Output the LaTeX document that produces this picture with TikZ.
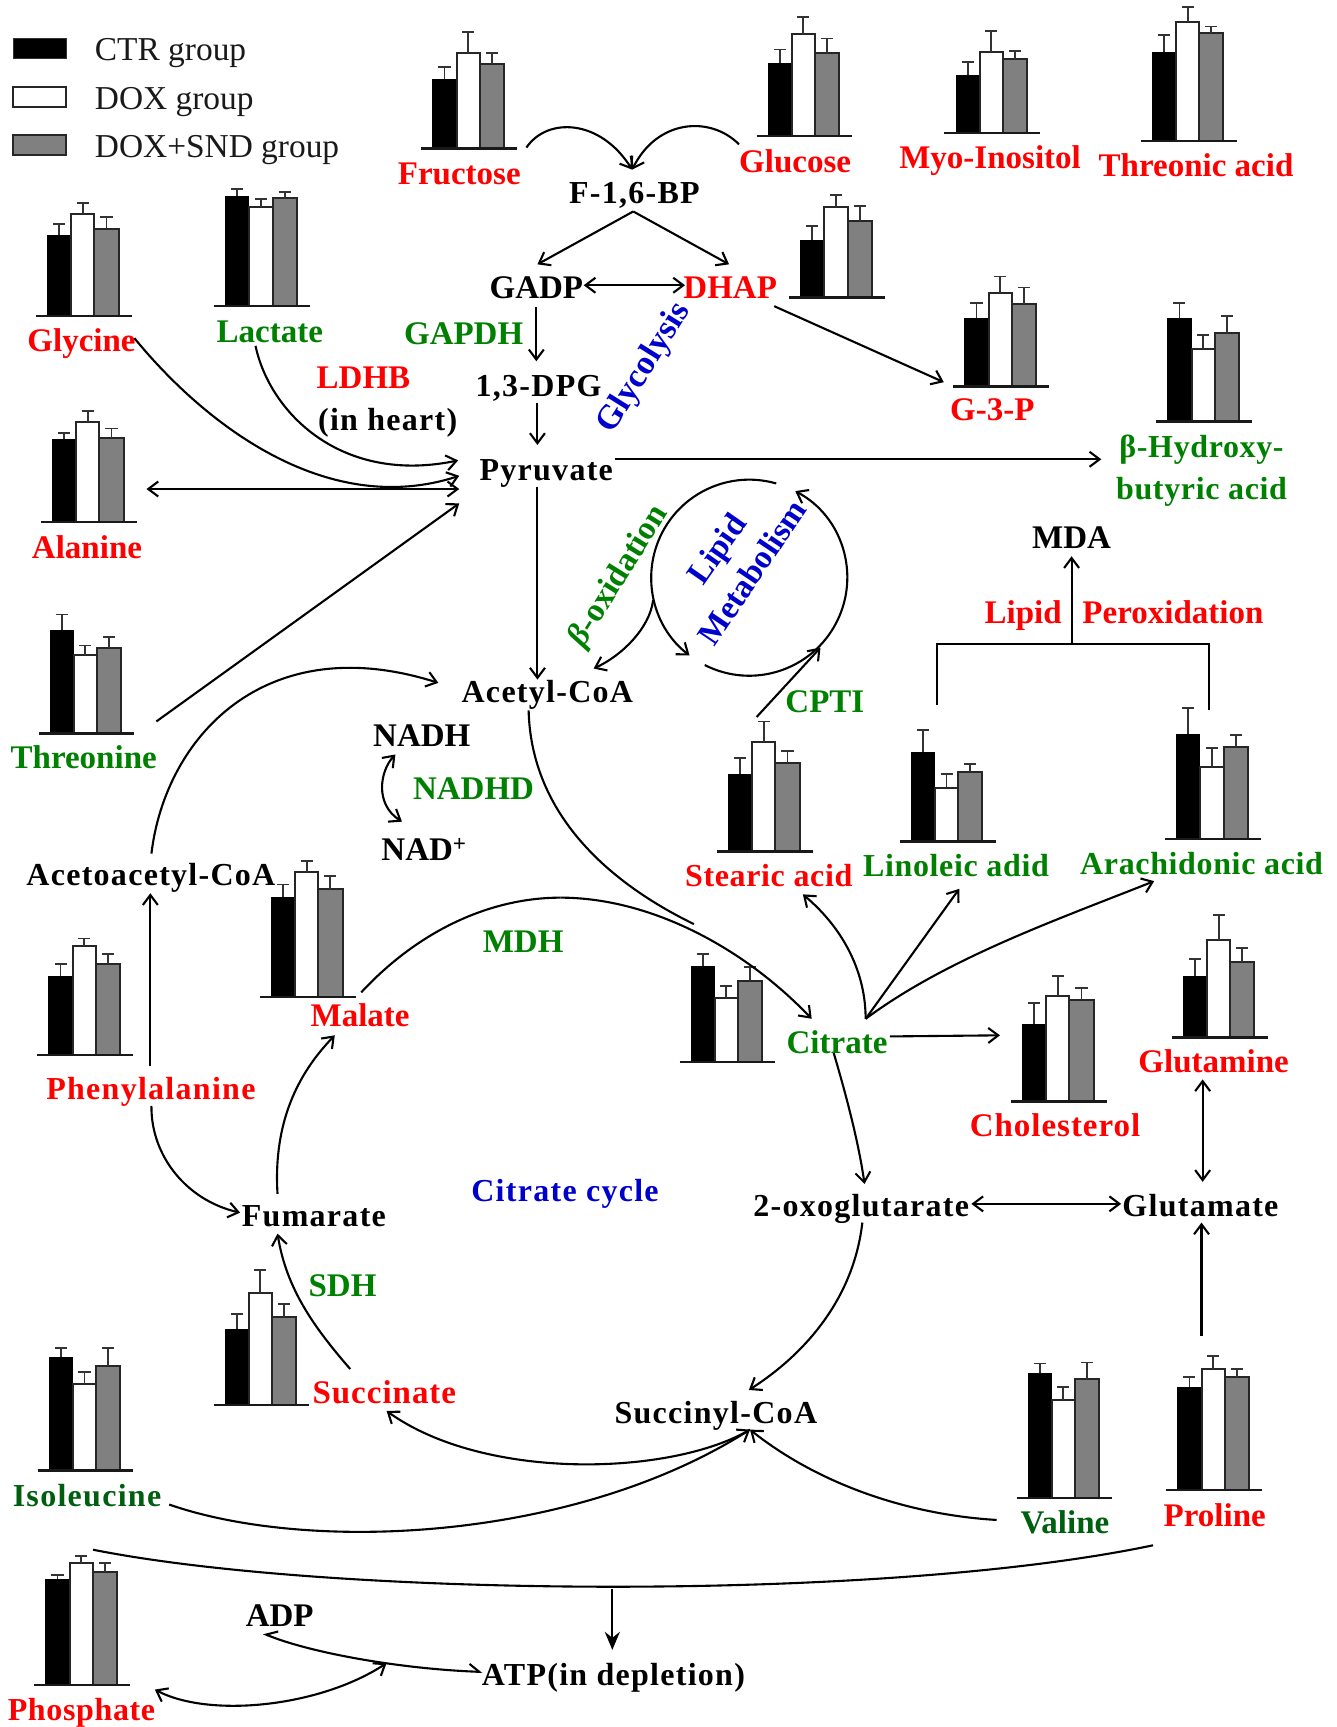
\documentclass[tikz,border=0pt]{standalone}
\usepackage{fontspec}
\setmainfont{Liberation Serif}
\newfontfamily\spacedfont[LetterSpace=4]{Liberation Serif}
\newfontfamily\tightfont[LetterSpace=2]{Liberation Serif}
\newfontfamily\midfont[LetterSpace=3]{Liberation Serif}
\usetikzlibrary{arrows.meta}
\definecolor{lblred}{HTML}{FF0000}
\definecolor{lblgreen}{HTML}{008000}
\definecolor{lbldark}{HTML}{005F0F}
\definecolor{lblblue}{HTML}{0000CC}
\definecolor{bargray}{HTML}{808080}
\newcommand{\chartbars}[8]{%
  \fill[black] (#1,#2) rectangle ({#1+22},#3);
  \draw[barline,fill=white] ({#1+22},#2) rectangle ({#1+43},#4);
  \draw[barline,fill=bargray] ({#1+43},#2) rectangle ({#1+65},#5);
  \draw[errline] ({#1+11},#3) -- ({#1+11},#6) ({#1+5.5},#6) -- ({#1+16.5},#6);
  \draw[errline] ({#1+32.5},#4) -- ({#1+32.5},#7) ({#1+27},#7) -- ({#1+38},#7);
  \draw[errline] ({#1+54},#5) -- ({#1+54},#8) ({#1+48.5},#8) -- ({#1+59.5},#8);
  \draw[baseline line] ({#1-10},#2) -- ({#1+77},#2);
}
\tikzset{
  barbtip/.tip={Straight Barb[length=10pt,width=15pt,line width=2.1pt]},
  barline/.style={line width=2pt,draw=black!85},
  errline/.style={line width=1.8pt,draw=black!80},
  baseline line/.style={line width=2.4pt,draw=black!90},
  lbl/.style={inner sep=0pt,yshift=-7.7pt,font=\fontsize{33}{36}\selectfont\bfseries,text height=0.68em,text depth=0.2em},
  mlbl/.style={inner sep=0pt,yshift=-7.7pt,font=\fontsize{33}{36}\midfont\bfseries,text height=0.68em,text depth=0.2em},
  slbl/.style={inner sep=0pt,yshift=-7.7pt,font=\fontsize{32}{36}\spacedfont\bfseries,text height=0.68em,text depth=0.2em},
  tlbl/.style={inner sep=0pt,yshift=-7.7pt,font=\fontsize{32}{36}\tightfont\bfseries,text height=0.68em,text depth=0.2em},
  rlbl/.style={inner sep=0pt,font=\fontsize{33}{36}\selectfont\bfseries,text height=0.68em,text depth=0.2em},
  leg/.style={inner sep=0pt,anchor=west,yshift=-7.7pt,font=\fontsize{33.4}{36}\selectfont,text height=0.68em,text depth=0.2em,text=black!90},
  arr/.style={line width=2.1pt,-barbtip},
  darr/.style={line width=2.1pt,barbtip-barbtip},
  plain/.style={line width=2.1pt},
  hp/.style={line width=2.1pt,{Straight Barb[harpoon,swap,length=10pt,width=15pt,line width=2.1pt]}-{Straight Barb[harpoon,length=10pt,width=15pt,line width=2.1pt]}},
  fat/.style={line width=2.2pt,-{Stealth[length=18pt,width=15pt]}},
}
\begin{document}
\begin{tikzpicture}[x=1.1013pt,y=-1.1014pt]
\useasboundingbox (0,0) rectangle (1214,1568);
% legend
\fill[black,draw=black!80,line width=1pt] (12,35) rectangle (60,53);
\draw[barline,fill=white] (12,79) rectangle (60,97);
\draw[barline,fill=bargray] (12,123) rectangle (60,141);
\node[leg] (legctr) at (86,46) {CTR group};
\node[leg] (legdox) at (86,90) {DOX group};
\node[leg] (legsnd) at (86,134) {DOX+SND group};
% charts
\chartbars{392.6}{135}{72}{48}{58}{61}{29}{48}
\chartbars{696.9}{123.6}{57}{31}{48}{45}{15.5}{35}
\chartbars{867.6}{121}{68.5}{47}{54}{56}{28.5}{46}
\chartbars{1045.9}{128}{47}{20}{30}{32}{6}{24}
\chartbars{726.6}{270}{218}{188}{201}{205}{177}{187}
\chartbars{875.7}{351}{289}{266}{276}{275}{251}{261}
\chartbars{1059.9}{382.6}{289}{317}{302}{275}{304}{287}
\chartbars{42.7}{287}{213}{194}{207.6}{203.6}{184}{197}
\chartbars{204.5}{278}{178}{188}{180}{171.6}{181}{174}
\chartbars{47.2}{474}{399}{383.6}{398}{393}{373}{389}
\chartbars{45}{666}{572}{595}{588}{558}{586}{578}
\chartbars{661}{773}{703}{674}{693}{688}{655}{682}
\chartbars{827}{764}{683}{715}{701}{663}{703}{694}
\chartbars{1068}{762}{666}{696}{678}{643}{679}{667}
\chartbars{246}{905}{814}{792}{807}{803}{782}{795}
\chartbars{44}{958}{886}{859}{875}{875}{852}{866}
\chartbars{627}{964}{877}{906}{891}{866}{895}{878}
\chartbars{928}{1000}{930}{904}{908}{911}{886}{897}
\chartbars{1074}{942}{886}{853}{873}{871}{831}{861}
\chartbars{933}{1360}{1247}{1271}{1252}{1238}{1259}{1237}
\chartbars{1069}{1353}{1259}{1243}{1250}{1250}{1231}{1243}
\chartbars{203.9}{1275.5}{1207}{1174}{1196}{1193}{1153}{1184}
\chartbars{44.2}{1335}{1232}{1256.5}{1240}{1224}{1246}{1224}
\chartbars{41.2}{1530}{1434}{1419}{1427}{1430}{1412.5}{1419}
% labels
\node[lbl,text=lblred] (fructose) at (417,158) {Fructose};
\node[lbl,text=lblred] (glucose) at (722,147) {Glucose};
\node[lbl,text=lblred] (myo) at (899,144) {Myo-Inositol};
\node[lbl,text=lblred] (threonic) at (1086,151) {Threonic acid};
\node[slbl,text=black] (f16bp) at (576,176) {F-1,6-BP};
\node[lbl,text=black] (gadp) at (487,262) {GADP};
\node[lbl,text=lblred] (dhap) at (663,262) {DHAP};
\node[lbl,text=lblgreen] (gapdh) at (421,304) {GAPDH};
\node[slbl,text=black] (dpg) at (489,351) {1,3-DPG};
\node[rlbl,text=lblblue,rotate=58,font=\fontsize{34}{36}\selectfont\bfseries] (glycolysis) at (590,337) {Glycolysis};
\node[lbl,text=lblred] (g3p) at (901,373) {G-3-P};
\node[tlbl,text=lblgreen] (bhb) at (1091,406) {β-Hydroxy-};
\node[tlbl,text=lblgreen] (bhb2) at (1091,444) {butyric acid};
\node[lbl,text=lblred] (glycine) at (74,310) {Glycine};
\node[lbl,text=lblgreen] (lactate) at (245,302) {Lactate};
\node[lbl,text=lblred] (ldhb) at (330,344) {LDHB};
\node[slbl,text=black] (inheart) at (352,382) {(in heart)};
\node[slbl,text=black] (pyruvate) at (496,427) {Pyruvate};
\node[lbl,text=lblred] (alanine) at (79,498) {Alanine};
\node[rlbl,text=lblgreen,rotate=58] (betaox) at (566.5,526) {\textit{β}-oxidation};
\node[rlbl,text=lblblue,rotate=55] (lipidm) at (657,503) {Lipid};
\node[rlbl,text=lblblue,rotate=56] (metab) at (689.5,524) {Metabolism};
\node[lbl,text=black] (mda) at (973,489) {MDA};
\node[lbl,text=lblred] (lipidp) at (929,557) {Lipid};
\node[lbl,text=lblred] (perox) at (1065,557) {Peroxidation};
\node[lbl,text=lblgreen] (threonine) at (76,689) {Threonine};
\node[slbl,text=black] (acetyl) at (497,629) {Acetyl-CoA};
\node[lbl,text=lblgreen] (cpti) at (749,638) {CPTI};
\node[lbl,text=black] (nadh) at (383,669) {NADH};
\node[lbl,text=lblgreen] (nadhd) at (430,717) {NADHD};
\node[lbl,text=black] (nad) at (385,772) {NAD\textsuperscript{+}};
\node[tlbl,text=lblred] (stearic) at (698,796) {Stearic acid};
\node[tlbl,text=lblgreen] (linoleic) at (868,787) {Linoleic adid};
\node[tlbl,text=lblgreen] (arach) at (1091,785) {Arachidonic acid};
\node[slbl,text=black] (acetoac) at (137,795) {Acetoacetyl-CoA};
\node[lbl,text=lblred] (malate) at (327,923) {Malate};
\node[lbl,text=lblgreen] (mdh) at (475,856) {MDH};
\node[lbl,text=lblgreen] (citrate) at (760,947) {Citrate};
\node[mlbl,text=lblred] (cholesterol) at (958,1023) {Cholesterol};
\node[lbl,text=lblred] (glutamine) at (1102,965) {Glutamine};
\node[slbl,text=lblred] (phenyl) at (137,989) {Phenylalanine};
\node[slbl,text=lblblue] (cycle) at (513,1082) {Citrate cycle};
\node[slbl,text=black] (fumarate) at (285,1104) {Fumarate};
\node[slbl,text=black] (oxoglu) at (782,1095) {2-oxoglutarate};
\node[slbl,text=black] (glutamate) at (1090,1095) {Glutamate};
\node[lbl,text=lblgreen] (sdh) at (311,1168) {SDH};
\node[mlbl,text=lblred] (succinate) at (349,1265) {Succinate};
\node[slbl,text=black] (succoa) at (650,1283) {Succinyl-CoA};
\node[slbl,text=lbldark] (isoleucine) at (79,1359) {Isoleucine};
\node[lbl,text=lbldark] (valine) at (967,1383) {Valine};
\node[lbl,text=lblred] (proline) at (1103,1377) {Proline};
\node[lbl,text=black] (adp) at (254,1468) {ADP};
\node[slbl,text=black] (atp) at (557,1521) {ATP(in depletion)};
\node[tlbl,text=lblred] (phosphate) at (74,1553) {Phosphate};
% free ends
\coordinate (fruS) at (478,134);
\coordinate (gluS) at (671,131);
\coordinate (fbpIn) at (574,154);
\coordinate (fbpOut) at (575,192);
\coordinate (gadpIn) at (488,240);
\coordinate (dhapIn) at (662,240);
\coordinate (gdL) at (530,259);
\coordinate (gdR) at (622,259);
\coordinate (gadpD) at (487,279);
\coordinate (dpgU) at (487,328);
\coordinate (dpgD) at (488,366);
\coordinate (pyrU) at (488,404);
\coordinate (dhapS) at (703,278);
\coordinate (g3pIn) at (857,347);
\coordinate (pyrE) at (558,417);
\coordinate (bhbIn) at (1000,417);
\coordinate (pyrD) at (488,442);
\coordinate (acU) at (488,617);
\coordinate (glyS) at (122,307);
\coordinate (pyrA) at (417,432);
\coordinate (lacS) at (232,314);
\coordinate (pyrB) at (416,418);
\coordinate (alaE) at (133,444);
\coordinate (pyrC) at (417,444);
\coordinate (thrS) at (142,655);
\coordinate (pyrF) at (417,457);
\coordinate (aaS) at (137.5,775);
\coordinate (acL) at (398,620);
\coordinate (pheU) at (136.5,968);
\coordinate (aaD) at (136.5,811);
\coordinate (pheD) at (137.5,1004);
\coordinate (fumL) at (218,1101);
\coordinate (fumU) at (252,1084);
\coordinate (malD) at (304,940);
\coordinate (malS) at (328,901);
\coordinate (mdhTop) at (509,815);
\coordinate (citIn) at (737,925);
\coordinate (acD) at (480,645);
\coordinate (merge) at (630,839);
\coordinate (citD) at (757,956);
\coordinate (oxoU) at (785,1075);
\coordinate (citE) at (808,941);
\coordinate (cholIn) at (908,940);
\coordinate (hub) at (786,925);
\coordinate (steIn) at (729,812);
\coordinate (linIn) at (871,807);
\coordinate (araIn) at (1048,800);
\coordinate (gmU) at (1092,980);
\coordinate (gmD) at (1092,1073);
\coordinate (oxoE) at (882,1093);
\coordinate (gluW) at (1018,1093);
\coordinate (proU) at (1091,1213);
\coordinate (gluD) at (1091,1110);
\coordinate (oxoD) at (783,1110);
\coordinate (succU) at (680,1262);
\coordinate (succD) at (681,1298);
\coordinate (sucIn) at (351,1281);
\coordinate (sucS) at (318,1243);
\coordinate (fumD) at (252,1120);
\coordinate (ileS) at (153.6,1366);
\coordinate (valS) at (905,1380);
\coordinate (botL) at (84.4,1407);
\coordinate (botR) at (1047,1403);
\coordinate (botM) at (556,1443);
\coordinate (atpU) at (556,1498);
\coordinate (adpS) at (239,1483);
\coordinate (atpW) at (438,1518);
\coordinate (phoE) at (140.6,1534);
\coordinate (adpM) at (351,1510);
\coordinate (nadU) at (359,685);
\coordinate (nadD) at (365,746);
\coordinate (lipS) at (593,545);
\coordinate (acR) at (539,607);
\coordinate (cptS) at (687,651);
\coordinate (cptE) at (745,588);
\coordinate (mdaU) at (973,505);
\coordinate (brL) at (851,640);
\coordinate (brLt) at (851,585);
\coordinate (brRt) at (1098,585);
\coordinate (brR) at (1098,645);
\coordinate (brM) at (973,585);
% connectors
\draw[arr] (fruS) .. controls (497,106) and (545,108) .. (fbpIn);
\draw[arr] (gluS) .. controls (645,105) and (597,108) .. (fbpIn);
\draw[arr] (fbpOut) -- (gadpIn);
\draw[arr] (fbpOut) -- (dhapIn);
\draw[darr] (gdL) -- (gdR);
\draw[arr] (gadpD) -- (dpgU);
\draw[arr] (dpgD) -- (pyrU);
\draw[arr] (dhapS) -- (g3pIn);
\draw[arr] (pyrE) -- (bhbIn);
\draw[arr] (pyrD) -- (acU);
\draw[arr] (glyS) .. controls (190,390) and (300,470) .. (pyrA);
\draw[arr] (lacS) .. controls (245,375) and (310,440) .. (pyrB);
\draw[darr] (alaE) -- (pyrC);
\draw[arr] (thrS) -- (pyrF);
\draw[arr] (aaS) .. controls (150,670) and (240,570) .. (acL);
\draw[arr] (pheU) -- (aaD);
\draw[arr] (pheD) .. controls (137,1050) and (170,1090) .. (fumL);
\draw[arr] (fumU) .. controls (248,1020) and (270,975) .. (malD);
\draw[plain] (malS) .. controls (380,845) and (445,815) .. (mdhTop);
\draw[arr] (mdhTop) .. controls (590,815) and (675,860) .. (citIn);
\draw[plain] (acD) .. controls (482,730) and (540,795) .. (merge);
\draw[arr] (citD) .. controls (770,1000) and (780,1040) .. (oxoU);
\draw[arr] (citE) -- (cholIn);
\draw[arr] (hub) .. controls (786,885) and (768,845) .. (steIn);
\draw[arr] (hub) -- (linIn);
\draw[arr] (hub) .. controls (860,870) and (960,835) .. (araIn);
\draw[darr] (gmU) -- (gmD);
\draw[darr] (oxoE) -- (gluW);
\draw[arr] (proU) -- (gluD);
\draw[arr] (oxoD) .. controls (775,1180) and (730,1230) .. (succU);
\draw[arr] (succD) .. controls (610,1340) and (440,1345) .. (sucIn);
\draw[arr] (sucS) .. controls (285,1205) and (260,1170) .. (fumD);
\draw[arr] (ileS) .. controls (280,1410) and (520,1400) .. (succD);
\draw[arr] (valS) .. controls (820,1375) and (740,1345) .. (succD);
\draw[plain] (botL) .. controls (300,1450) and (800,1455) .. (botR);
\draw[fat] (botM) -- (atpU);
\draw[hp] (adpS) .. controls (280,1500) and (360,1515) .. (atpW);
\draw[darr] (phoE) .. controls (190,1560) and (290,1550) .. (adpM);
\draw[darr] (nadU) .. controls (345,700) and (340,730) .. (nadD);
\draw[arr] (lipS) .. controls (590,570) and (565,595) .. (acR);
\draw[arr] (cptS) -- (cptE);
\draw[plain] (brL) -- (brLt) -- (brRt) -- (brR);
\draw[arr] (brM) -- (mdaU);
% lipid circle arcs
\coordinate (lipA) at ({680.3+89*cos(74)},{524.5-89*sin(74)});
\coordinate (lipB) at ({680.3+89*cos(243)},{524.5-89*sin(243)});
\draw[arr] (lipA) arc[start angle=-74,end angle=-232.5,radius=89];
\draw[arr] (lipB) arc[start angle=-243,end angle=-422,radius=89];
\end{tikzpicture}
\end{document}
